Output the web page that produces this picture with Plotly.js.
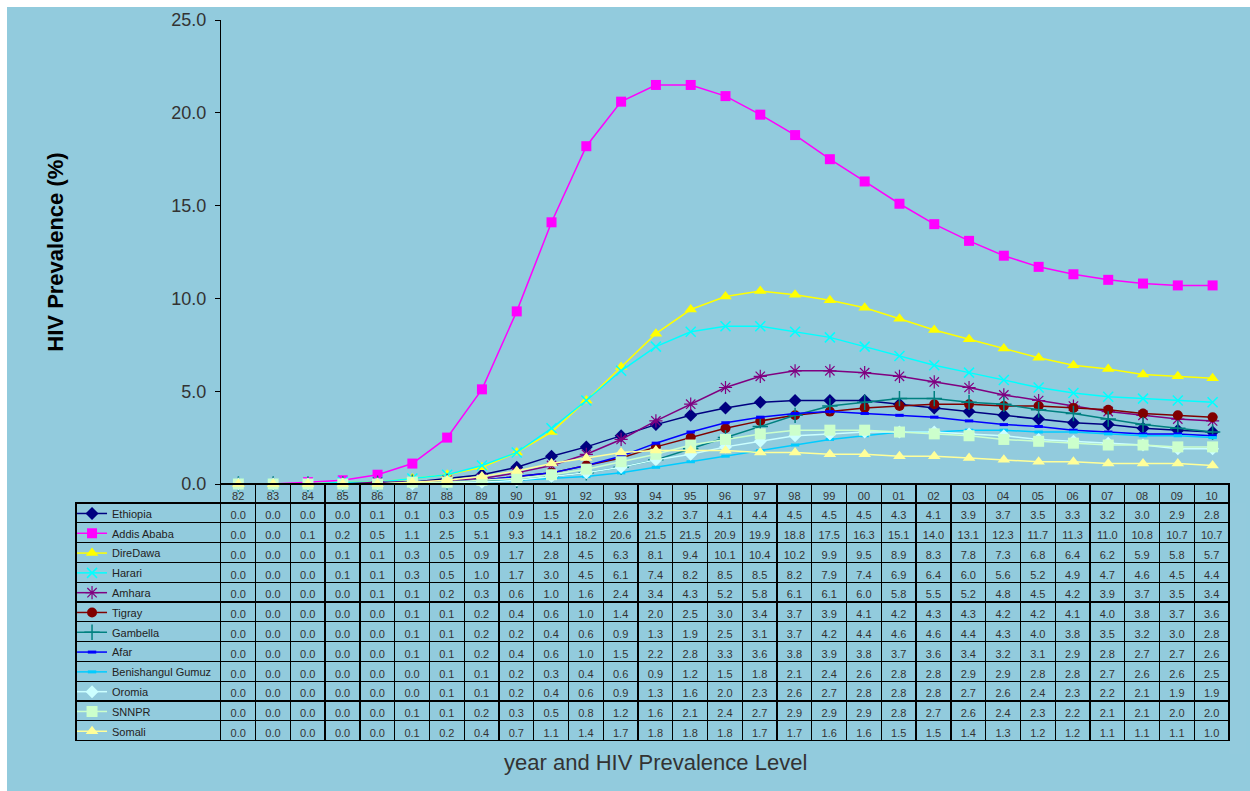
<!DOCTYPE html>
<html>
<head>
<meta charset="utf-8">
<script src="https://cdn.plot.ly/plotly-3.0.1.min.js"></script>
<style>
  html, body { margin: 0; padding: 0; background: #ffffff; }
  #chart { position: absolute; left: 7px; top: 7px; width: 1243px; height: 784px; }
</style>
</head>
<body>
<div id="chart"></div>
<script>
// Year labels (1982 - 2010)
const years = ['82','83','84','85','86','87','88','89','90','91','92','93','94','95',
               '96','97','98','99','00','01','02','03','04','05','06','07','08','09','10'];

// HIV prevalence (%) by region
const ethiopia   = [0.0,0.0,0.0,0.0,0.1,0.1,0.3,0.5,0.9,1.5,2.0,2.6,3.2,3.7,4.1,4.4,4.5,4.5,4.5,4.3,4.1,3.9,3.7,3.5,3.3,3.2,3.0,2.9,2.8];
const addisAbaba = [0.0,0.0,0.1,0.2,0.5,1.1,2.5,5.1,9.3,14.1,18.2,20.6,21.5,21.5,20.9,19.9,18.8,17.5,16.3,15.1,14.0,13.1,12.3,11.7,11.3,11.0,10.8,10.7,10.7];
const direDawa   = [0.0,0.0,0.0,0.1,0.1,0.3,0.5,0.9,1.7,2.8,4.5,6.3,8.1,9.4,10.1,10.4,10.2,9.9,9.5,8.9,8.3,7.8,7.3,6.8,6.4,6.2,5.9,5.8,5.7];
const harari     = [0.0,0.0,0.0,0.1,0.1,0.3,0.5,1.0,1.7,3.0,4.5,6.1,7.4,8.2,8.5,8.5,8.2,7.9,7.4,6.9,6.4,6.0,5.6,5.2,4.9,4.7,4.6,4.5,4.4];
const amhara     = [0.0,0.0,0.0,0.0,0.1,0.1,0.2,0.3,0.6,1.0,1.6,2.4,3.4,4.3,5.2,5.8,6.1,6.1,6.0,5.8,5.5,5.2,4.8,4.5,4.2,3.9,3.7,3.5,3.4];
const tigray     = [0.0,0.0,0.0,0.0,0.0,0.1,0.1,0.2,0.4,0.6,1.0,1.4,2.0,2.5,3.0,3.4,3.7,3.9,4.1,4.2,4.3,4.3,4.2,4.2,4.1,4.0,3.8,3.7,3.6];
const gambella   = [0.0,0.0,0.0,0.0,0.0,0.1,0.1,0.2,0.2,0.4,0.6,0.9,1.3,1.9,2.5,3.1,3.7,4.2,4.4,4.6,4.6,4.4,4.3,4.0,3.8,3.5,3.2,3.0,2.8];
const afar       = [0.0,0.0,0.0,0.0,0.0,0.1,0.1,0.2,0.4,0.6,1.0,1.5,2.2,2.8,3.3,3.6,3.8,3.9,3.8,3.7,3.6,3.4,3.2,3.1,2.9,2.8,2.7,2.7,2.6];
const benishangulGumuz = [0.0,0.0,0.0,0.0,0.0,0.0,0.1,0.1,0.2,0.3,0.4,0.6,0.9,1.2,1.5,1.8,2.1,2.4,2.6,2.8,2.8,2.9,2.9,2.8,2.8,2.7,2.6,2.6,2.5];
const oromia     = [0.0,0.0,0.0,0.0,0.0,0.0,0.1,0.1,0.2,0.4,0.6,0.9,1.3,1.6,2.0,2.3,2.6,2.7,2.8,2.8,2.8,2.7,2.6,2.4,2.3,2.2,2.1,1.9,1.9];
const snnpr      = [0.0,0.0,0.0,0.0,0.0,0.1,0.1,0.2,0.3,0.5,0.8,1.2,1.6,2.1,2.4,2.7,2.9,2.9,2.9,2.8,2.7,2.6,2.4,2.3,2.2,2.1,2.1,2.0,2.0];
const somali     = [0.0,0.0,0.0,0.0,0.0,0.1,0.2,0.4,0.7,1.1,1.4,1.7,1.8,1.8,1.8,1.7,1.7,1.6,1.6,1.5,1.5,1.4,1.3,1.2,1.2,1.1,1.1,1.1,1.0];

// Series styling (Excel-like palette and markers)
const series = [
  { name: 'Ethiopia',          y: ethiopia,         color: '#000080', symbol: 'diamond',         size: 10 },
  { name: 'Addis Ababa',       y: addisAbaba,       color: '#FF00FF', symbol: 'square',          size: 10 },
  { name: 'DireDawa',          y: direDawa,         color: '#FFFF00', symbol: 'triangle-up',     size: 11 },
  { name: 'Harari',            y: harari,           color: '#00FFFF', symbol: 'x-thin-open',     size: 10, lw: 1.5 },
  { name: 'Amhara',            y: amhara,           color: '#800080', symbol: 'asterisk-open',   size: 11, lw: 1.2 },
  { name: 'Tigray',            y: tigray,           color: '#800000', symbol: 'circle',          size: 10 },
  { name: 'Gambella',          y: gambella,         color: '#008080', symbol: 'cross-thin-open', size: 11, lw: 1.5 },
  { name: 'Afar',              y: afar,             color: '#0000FF', symbol: 'line-ew-open',    size: 6,  lw: 3 },
  { name: 'Benishangul Gumuz', y: benishangulGumuz, color: '#00CCFF', symbol: 'line-ew-open',    size: 6,  lw: 3 },
  { name: 'Oromia',            y: oromia,           color: '#CCFFFF', symbol: 'diamond',         size: 10 },
  { name: 'SNNPR',             y: snnpr,            color: '#CCFFCC', symbol: 'square',          size: 11 },
  { name: 'Somali',            y: somali,           color: '#FFFF99', symbol: 'triangle-up',     size: 11 }
];

const FONT = 'Arial, "Liberation Sans", sans-serif';
const BG = '#92CBDD';

const traces = series.map((s, i) => ({
  type: 'scatter',
  mode: 'lines+markers',
  name: s.name,
  legendgroup: 'g' + i,
  x: years,
  y: s.y,
  cliponaxis: false,
  line: { color: s.color, width: 1.5 },
  marker: {
    symbol: s.symbol,
    size: s.size,
    color: s.color,
    line: { color: s.color, width: s.lw || 0 }
  },
  hovertemplate: s.name + ' %{x}: %{y:.1f}%<extra></extra>'
}));

// Data table below the plot: one column per year, one row per region
const transparent = 'rgba(0,0,0,0)';
const cellColumns = [series.map(() => '')].concat(
  years.map((yr, j) => series.map(s => s.y[j].toFixed(1)))
);

traces.push({
  type: 'table',
  domain: { x: [0.04824, 0.99182], y: [0.035, 0.39028] },
  columnwidth: [145].concat(years.map(() => 34.8)),
  header: {
    values: [''].concat(years),
    height: 19,
    align: 'center',
    fill: { color: transparent },
    line: { color: [transparent].concat(years.map(() => '#000000')), width: 1.3 },
    font: { family: FONT, size: 11, color: '#333333' }
  },
  cells: {
    values: cellColumns,
    height: 19.8,
    align: 'center',
    fill: { color: transparent },
    line: { color: '#000000', width: 1.3 },
    font: { family: FONT, size: 11, color: '#333333' }
  }
});

const layout = {
  width: 1243,
  height: 784,
  margin: { l: 10, r: 10, t: 13, b: 10, autoexpand: false },
  paper_bgcolor: BG,
  plot_bgcolor: BG,
  font: { family: FONT, color: '#333333' },
  showlegend: true,
  legend: {
    x: 0.045, xanchor: 'left',
    y: 0.3706, yanchor: 'top',
    bgcolor: transparent,
    borderwidth: 0,
    tracegroupgap: 0.8,
    traceorder: 'grouped',
    font: { family: FONT, size: 11, color: '#222222' }
  },
  xaxis: {
    type: 'category',
    domain: [0.16680, 0.99182],
    range: [-0.5, 28.5],
    showticklabels: false,
    ticks: '',
    showline: false,
    showgrid: false,
    zeroline: false,
    fixedrange: true,
    automargin: false
  },
  yaxis: {
    domain: [0.39028, 1.0],
    range: [0, 25],
    dtick: 5,
    tickformat: '.1f',
    ticks: 'outside',
    ticklen: 5,
    tickcolor: '#000000',
    ticklabelstandoff: 5,
    tickfont: { family: FONT, size: 18, color: '#333333' },
    showline: true,
    linecolor: '#000000',
    linewidth: 1,
    showgrid: false,
    zeroline: false,
    fixedrange: true,
    automargin: false,
    title: {
      text: 'HIV Prevalence (%)',
      standoff: 101,
      font: { family: FONT, size: 22, color: '#000000', weight: 'bold' }
    }
  },
  annotations: [{
    text: 'year and HIV Prevalence Level',
    xref: 'paper', yref: 'paper',
    x: 0.5217, y: 0.0237,
    xanchor: 'center', yanchor: 'middle',
    showarrow: false,
    font: { family: FONT, size: 22, color: '#333333' }
  }]
};

Plotly.newPlot('chart', traces, layout, { displayModeBar: false });
</script>
</body>
</html>
